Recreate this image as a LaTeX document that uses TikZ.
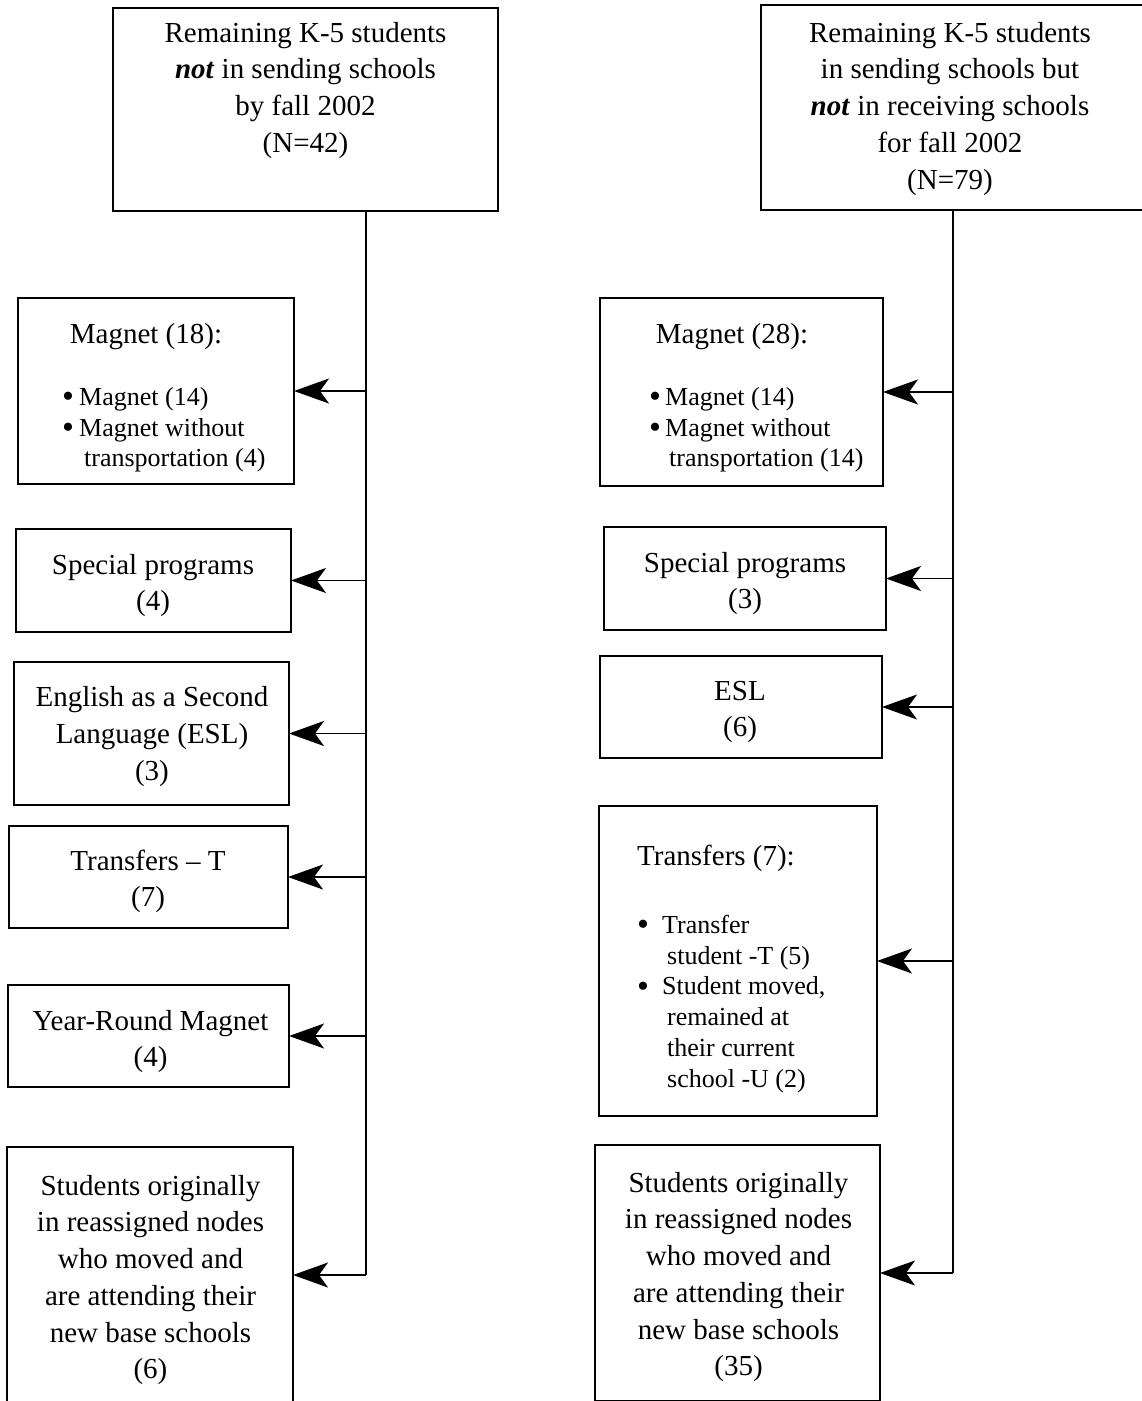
\documentclass[tikz,border=0pt]{standalone}
\usepackage{fontspec}
\setmainfont{Liberation Serif}
\usetikzlibrary{arrows.meta}
\newcommand\bigf{\fontsize{29}{36.7}\selectfont}
\newcommand\smf{\fontsize{26}{30.8}\selectfont}
\newcommand\blet{\raisebox{-2.5pt}{\fontsize{34}{30}\selectfont\textbullet}}
\tikzset{
  box/.style={draw, line width=1.8pt, rectangle, inner sep=0pt, outer sep=0pt, anchor=north west},
  txt/.style={inner sep=0pt, align=center, font=\bigf, anchor=north},
  blt/.style={inner sep=0pt, align=left, font=\smf, anchor=north west},
  arr/.style={line width=1.8pt, -{Stealth[length=35pt,width=25pt,inset=9pt]}},
  trunk/.style={line width=1.8pt}
}
\begin{document}
\begin{tikzpicture}[x=1pt,y=1pt]
\useasboundingbox (0,0) rectangle (1142,-1401);
\clip (0,0) rectangle (1142,-1401);
% boxes
\node[box, minimum width=385pt, minimum height=203pt] (L0) at (113,-8) {};
\node[box, minimum width=420pt, minimum height=205pt] (R0) at (761,-5) {};
\node[box, minimum width=276pt, minimum height=186pt] (L1) at (18,-298) {};
\node[box, minimum width=283pt, minimum height=188pt] (R1) at (600,-298) {};
\node[box, minimum width=275pt, minimum height=103pt] (L2) at (16,-529) {};
\node[box, minimum width=282pt, minimum height=103pt] (R2) at (604,-527) {};
\node[box, minimum width=275pt, minimum height=143pt] (L3) at (14,-662) {};
\node[box, minimum width=282pt, minimum height=102pt] (R3) at (600,-656) {};
\node[box, minimum width=279pt, minimum height=102pt] (L4) at (9,-826) {};
\node[box, minimum width=278pt, minimum height=310pt] (R4) at (599,-806) {};
\node[box, minimum width=281pt, minimum height=102pt] (L5) at (8,-985) {};
\node[box, minimum width=286pt, minimum height=256pt] (L6) at (7,-1147) {};
\node[box, minimum width=285pt, minimum height=256pt] (R5) at (595,-1145) {};
% texts
\node[txt] (L0t) at (305.5,-16.31) {\strut Remaining K-5 students\\\textbf{\textit{not}} in sending schools\\by fall 2002\\(N=42)};
\node[txt] (R0t) at (950,-16.31) {\strut Remaining K-5 students\\in sending schools but\\\textbf{\textit{not}} in receiving schools\\for fall 2002\\(N=79)};
\node[txt] (L1t) at (146,-317.3) {\strut Magnet (18):};
\node[blt] (L1b) at (62,-383.44) {\strut\makebox[17pt][l]{\blet}Magnet (14)\\\makebox[17pt][l]{\blet}Magnet without\\\hspace*{22pt}transportation (4)};
\node[txt] (R1t) at (732,-317.3) {\strut Magnet (28):};
\node[blt] (R1b) at (649,-383.44) {\strut\makebox[16pt][l]{\blet}Magnet (14)\\\makebox[16pt][l]{\blet}Magnet without\\\hspace*{20pt}transportation (14)};
\node[txt] (L2t) at (153,-548.3) {\strut Special programs\\(4)};
\node[txt] (R2t) at (745,-546.3) {\strut Special programs\\(3)};
\node[txt] (L3t) at (152,-681) {\strut English as a Second\\Language (ESL)\\(3)};
\node[txt] (R3t) at (740,-674.3) {\strut ESL\\(6)};
\node[txt] (L4t) at (148,-844.3) {\strut Transfers -- T\\(7)};
\node[txt, anchor=north west] (R4t) at (637,-839.3) {\strut Transfers (7):};
\node[blt] (R4b) at (637,-911.44) {\strut\makebox[25pt][l]{\blet}Transfer\\\hspace*{30pt}student -T (5)\\\makebox[25pt][l]{\blet}Student moved,\\\hspace*{30pt}remained at\\\hspace*{30pt}their current\\\hspace*{30pt}school -U (2)};
\node[txt] (L5t) at (150.5,-1004.3) {\strut Year-Round Magnet\\(4)};
\node[txt] (L6t) at (150.5,-1169.3) {\strut Students originally\\in reassigned nodes\\who moved and\\are attending their\\new base schools\\(6)};
\node[txt] (R5t) at (738.5,-1166.3) {\strut Students originally\\in reassigned nodes\\who moved and\\are attending their\\new base schools\\(35)};
% trunks
\coordinate (LT) at (366,-211);
\coordinate (RT) at (953,-210);
\draw[trunk] (LT) -- (LT |- L6.east);
\draw[trunk] (RT) -- (RT |- R5.east);
% arrows
\foreach \b in {L1,L2,L3,L4,L5,L6} \draw[arr] (LT |- \b.east) -- (\b.east);
\foreach \b in {R1,R2,R3,R4,R5} \draw[arr] (RT |- \b.east) -- (\b.east);
\end{tikzpicture}
\end{document}
